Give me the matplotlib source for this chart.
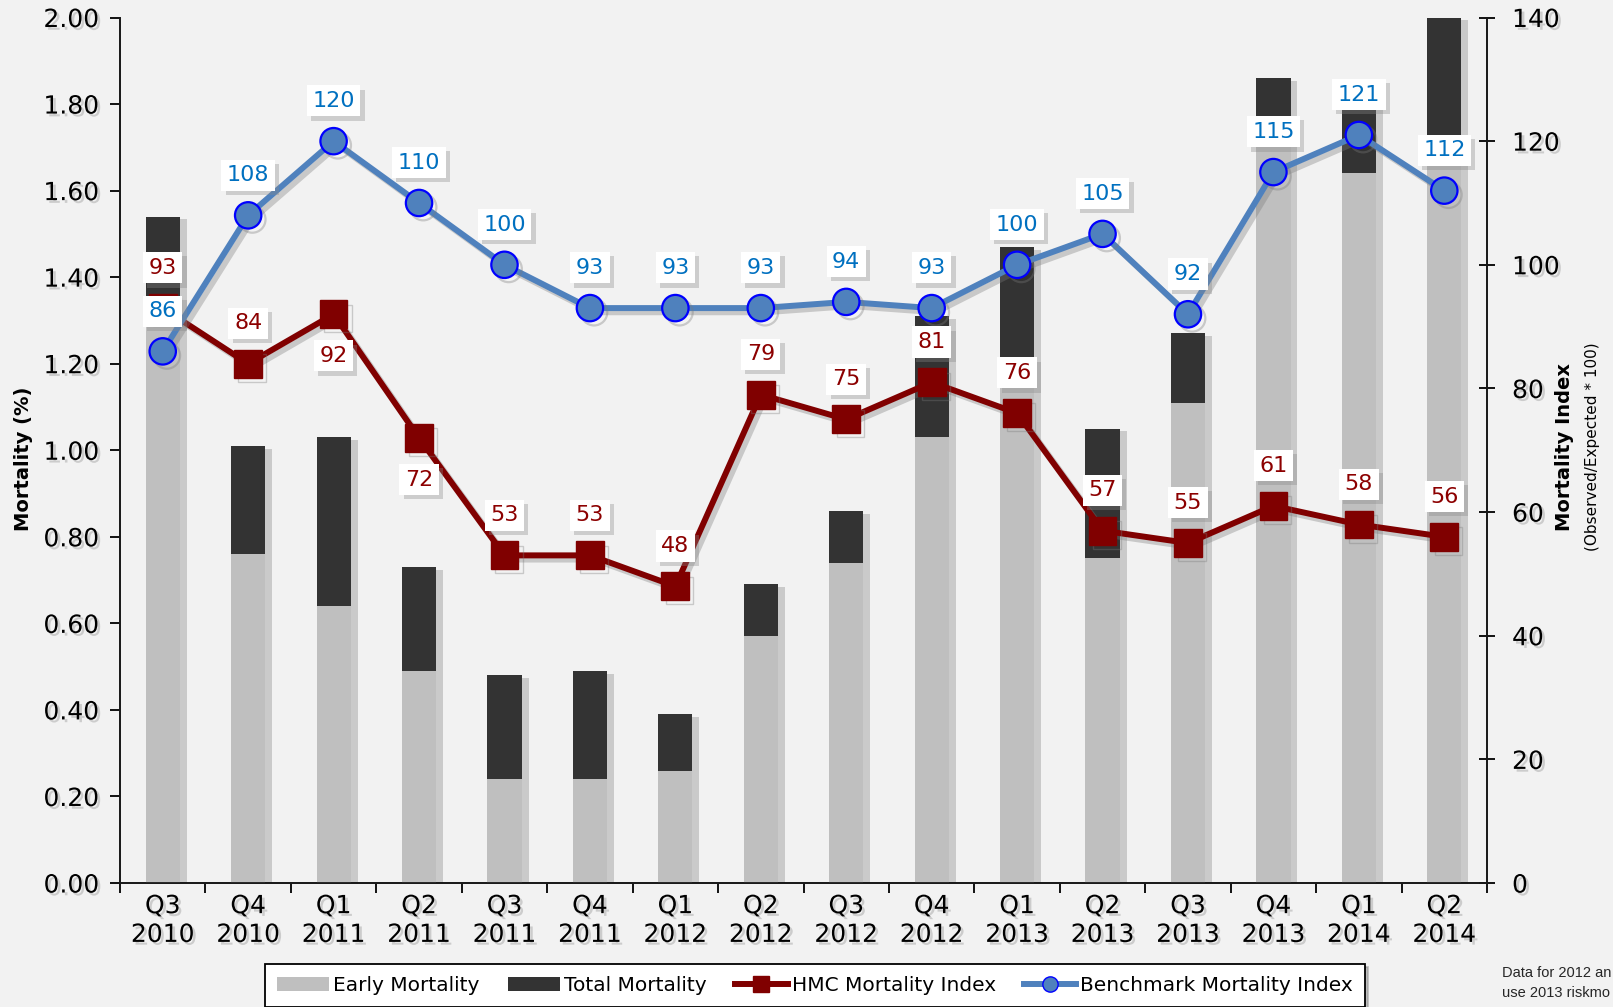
import numpy as np
import matplotlib
matplotlib.use("Agg")
import matplotlib.pyplot as plt
import matplotlib.patheffects as pe
from matplotlib.lines import Line2D
from matplotlib.patches import Patch
from matplotlib.ticker import FormatStrFormatter

quarters = ["Q3\n2010", "Q4\n2010", "Q1\n2011", "Q2\n2011", "Q3\n2011", "Q4\n2011",
            "Q1\n2012", "Q2\n2012", "Q3\n2012", "Q4\n2012", "Q1\n2013", "Q2\n2013",
            "Q3\n2013", "Q4\n2013", "Q1\n2014", "Q2\n2014"]
early_mortality = [1.30, 0.76, 0.64, 0.49, 0.24, 0.24, 0.26, 0.57,
                   0.74, 1.03, 1.16, 0.75, 1.11, 1.70, 1.64, 1.70]
total_mortality = [1.54, 1.01, 1.03, 0.73, 0.48, 0.49, 0.39, 0.69,
                   0.86, 1.31, 1.47, 1.05, 1.27, 1.86, 1.80, 2.00]
hmc_index = [93, 84, 92, 72, 53, 53, 48, 79, 75, 81, 76, 57, 55, 61, 58, 56]
benchmark_index = [86, 108, 120, 110, 100, 93, 93, 93, 94, 93, 100, 105, 92, 115, 121, 112]
hmc_label_below = [False, False, True, True] + [False] * 12

BG = "#f2f2f2"
EARLY_C = "#bfbfbf"
TOTAL_C = "#333333"
HMC_C = "#800000"
BENCH_C = "#4f81bd"

plt.rcParams["font.family"] = ["DejaVu Sans"]

fig = plt.figure(figsize=(16.13, 10.07), dpi=100, facecolor=BG)
ax = fig.add_axes([0.0744, 0.1231, 0.8475, 0.8595])
ax.set_facecolor(BG)
ax2 = ax.twinx()

x = np.arange(len(quarters))

# bars: total behind, early in front
bar_shadow = [pe.SimplePatchShadow(offset=(5, -2), shadow_rgbFace="#9a9a9a", alpha=0.45), pe.Normal()]
total_bars = ax.bar(x, total_mortality, width=0.4, color=TOTAL_C, zorder=2)
early_bars = ax.bar(x, early_mortality, width=0.4, color=EARLY_C, zorder=3)
for b in total_bars:
    b.set_path_effects(bar_shadow)

ax.set_xlim(-0.5, len(quarters) - 0.5)
ax.set_ylim(0, 2.0)
ax2.set_ylim(0, 140)

# index lines
line_shadow = [pe.SimpleLineShadow(offset=(3, -3), shadow_color="#7a7a7a", alpha=0.35), pe.Normal()]
ax2.plot(x, hmc_index, color=HMC_C, lw=4.3, marker="s", ms=20, mfc=HMC_C, mec=HMC_C,
         zorder=3, path_effects=line_shadow)
ax2.plot(x, benchmark_index, color=BENCH_C, lw=4.3, marker="o", ms=19, mfc=BENCH_C,
         mec="#0000ff", mew=1.6, zorder=4, path_effects=line_shadow)

box_shadow = [pe.SimplePatchShadow(offset=(3, -3), shadow_rgbFace="#888888", alpha=0.35), pe.Normal()]


def add_label(xi, yi, text, color, dy):
    t = ax2.annotate(text, (xi, yi), xytext=(0, dy), textcoords="offset points",
                     ha="center", va="center", fontsize=16, color=color, zorder=6,
                     bbox=dict(boxstyle="square,pad=0.25", fc="white", ec="none"))
    t.get_bbox_patch().set_path_effects(box_shadow)


for xi, v, below in zip(x, hmc_index, hmc_label_below):
    add_label(xi, v, str(v), "#8c0000", -30 if below else 29)
for xi, v in zip(x, benchmark_index):
    add_label(xi, v, str(v), "#0070c0", 29)

# axes styling
for a in (ax, ax2):
    a.spines["top"].set_visible(False)
    for s in ("left", "right", "bottom"):
        a.spines[s].set_color("#1a1a1a")
        a.spines[s].set_linewidth(1.3)

ax.set_xticks(x, quarters)
ax.set_xticks(np.arange(-0.5, len(quarters)), minor=True)
ax.tick_params(axis="x", which="major", length=0, pad=8, labelsize=18)
ax.tick_params(axis="x", which="minor", length=7, width=1.3, direction="out")
for lbl in ax.get_xticklabels():
    lbl.set_linespacing(1.25)

ax.set_yticks(np.arange(0, 2.01, 0.2))
ax.yaxis.set_major_formatter(FormatStrFormatter("%.2f"))
ax.tick_params(axis="y", length=7, width=1.3, direction="out", pad=8, labelsize=18)

ax2.set_yticks(np.arange(0, 141, 20))
ax2.tick_params(axis="y", length=12, width=1.3, direction="inout", pad=12, labelsize=18)

text_shadow = [pe.SimplePatchShadow(offset=(2, -2), shadow_rgbFace="#777777", alpha=0.3), pe.Normal()]
for lbl in ax.get_xticklabels() + ax.get_yticklabels() + ax2.get_yticklabels():
    lbl.set_path_effects(text_shadow)

# axis titles
fig.text(0.0143, 0.544, "Mortality (%)", rotation=90, ha="center", va="center",
         fontsize=14, fontweight="bold")
fig.text(0.9702, 0.556, "Mortality Index", rotation=90, ha="center", va="center",
         fontsize=14, fontweight="bold")
fig.text(0.9870, 0.556, "(Observed/Expected * 100)", rotation=90, ha="center", va="center",
         fontsize=11)

# legend along the bottom edge
handles = [
    Patch(fc=EARLY_C, label="Early Mortality"),
    Patch(fc=TOTAL_C, label="Total Mortality"),
    Line2D([], [], color=HMC_C, lw=4.3, marker="s", ms=11, label="HMC Mortality Index"),
    Line2D([], [], color=BENCH_C, lw=4.3, marker="o", ms=11, mfc=BENCH_C, mec="#0000ff",
           label="Benchmark Mortality Index"),
]
leg = fig.legend(handles=handles, loc="upper center", bbox_to_anchor=(0.5053, 0.0427),
                 ncol=4, fontsize=14.5, frameon=True, fancybox=False, edgecolor="black",
                 facecolor="white", framealpha=1, borderaxespad=0, handlelength=2.6,
                 handleheight=0.75, handletextpad=0.2, columnspacing=1.4, borderpad=0.6,
                 shadow={"color": "0.55", "alpha": 0.5})
leg.get_frame().set_linewidth(1.3)

# footnote, runs off the right edge
fig.text(0.9312, 0.0338, "Data for 2012 an", family="Liberation Sans", fontsize=10.5,
         va="center", ha="left", color="#262626")
fig.text(0.9312, 0.0139, "use 2013 riskmo", family="Liberation Sans", fontsize=10.5,
         va="center", ha="left", color="#262626")

fig.savefig("out.png", dpi=100, facecolor=BG)
